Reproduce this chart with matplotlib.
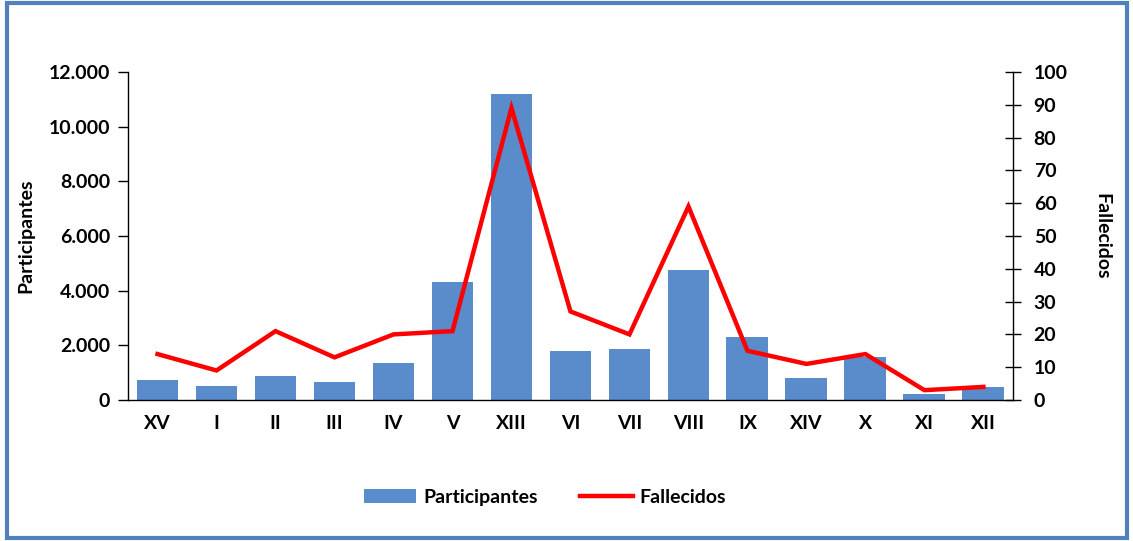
import matplotlib.pyplot as plt
from matplotlib.patches import Rectangle
from matplotlib.ticker import FuncFormatter
from matplotlib.lines import Line2D
from matplotlib.patches import Patch

plt.rcParams['font.family'] = ['Lato', 'DejaVu Sans']
plt.rcParams['font.weight'] = 'bold'

# data
regiones = ['XV', 'I', 'II', 'III', 'IV', 'V', 'XIII', 'VI', 'VII', 'VIII', 'IX', 'XIV', 'X', 'XI', 'XII']
participantes = [730, 500, 870, 650, 1350, 4320, 11190, 1800, 1880, 4750, 2300, 800, 1590, 230, 475]
fallecidos = [14, 9, 21, 13, 20, 21, 89, 27, 20, 59, 15, 11, 14, 3, 4]

bar_color = '#5A8BCA'
line_color = '#FF0000'
fs = 14

fig = plt.figure(figsize=(11.33, 5.41), dpi=100)
ax1 = fig.add_axes([0.113, 0.2606, 0.781, 0.6064])
x = range(len(regiones))
ax1.bar(x, participantes, width=0.71, color=bar_color, zorder=2)
ax1.set_xlim(-0.5, len(regiones) - 0.5)
ax1.set_ylim(0, 12000)
ax1.set_yticks(range(0, 12001, 2000))
ax1.yaxis.set_major_formatter(FuncFormatter(lambda v, p: f'{int(v):,}'.replace(',', '.')))
ax1.set_xticks(list(x))
ax1.set_xticklabels(regiones)
ax1.tick_params(axis='x', length=0, pad=11, labelsize=fs)
ax1.tick_params(axis='y', direction='out', length=7, width=1, pad=6, labelsize=fs)
for s in ['top', 'right']:
    ax1.spines[s].set_visible(False)
ax1.spines['left'].set_linewidth(1)
ax1.spines['bottom'].set_linewidth(1)
ax1.set_ylabel('Participantes', fontsize=fs, fontweight='bold', labelpad=10)

ax2 = ax1.twinx()
ax2.plot(x, fallecidos, color=line_color, linewidth=3.2, zorder=3, solid_joinstyle='miter')
ax2.set_ylim(0, 100)
ax2.set_yticks(range(0, 101, 10))
ax2.tick_params(axis='y', direction='inout', length=12, width=1, pad=9, labelsize=fs)
for s in ['top', 'left', 'bottom']:
    ax2.spines[s].set_visible(False)
ax2.spines['right'].set_linewidth(1)
ax2.set_ylabel('Fallecidos', fontsize=fs, fontweight='bold', rotation=270, labelpad=31)

handles = [Patch(facecolor=bar_color, label='Participantes'),
           Line2D([0], [0], color=line_color, linewidth=3.2, label='Fallecidos')]
fig.legend(handles=handles, loc='center', bbox_to_anchor=(0.481, 0.081), ncol=2,
           frameon=False, fontsize=fs, handlelength=2.7, handleheight=0.8,
           columnspacing=2.2, handletextpad=0.35)

# blue frame around the picture
fig.patches.append(Rectangle((0.006, 0.005), 0.989, 0.99, transform=fig.transFigure,
                             fill=False, edgecolor='#4F81BD', linewidth=3))

fig.savefig('out.png', dpi=100)
